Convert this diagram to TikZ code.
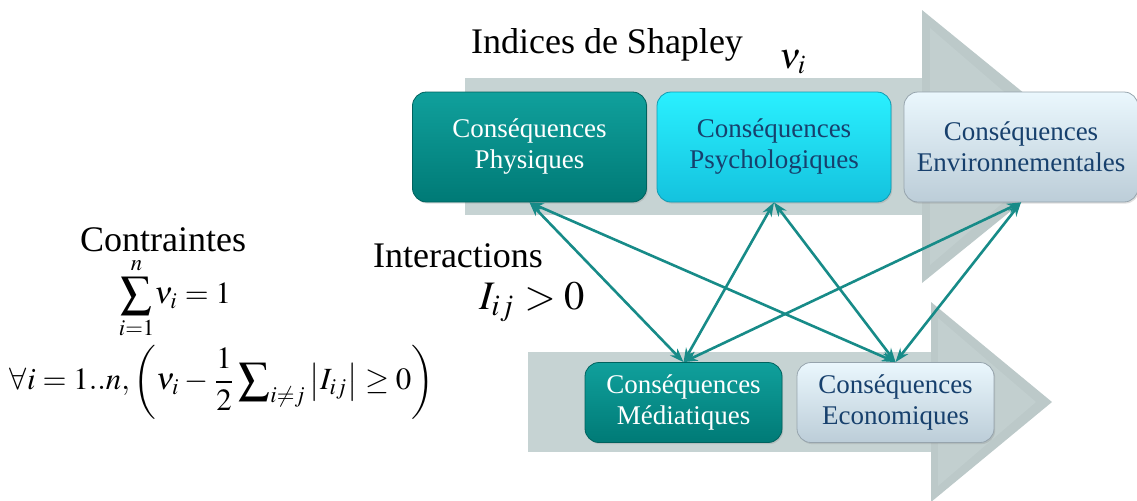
\documentclass[tikz,border=0pt]{standalone}
\usepackage{mathptmx}
\usepackage{fontspec}
\setmainfont{Liberation Serif}
\usepackage{amsmath}
\usepackage{graphicx}
\usetikzlibrary{arrows.meta,shadows}
\definecolor{tealtop}{HTML}{10A09C}
\definecolor{tealbot}{HTML}{007A76}
\definecolor{cyantop}{HTML}{2AF0FF}
\definecolor{cyanbot}{HTML}{14C2DE}
\definecolor{lighttop}{HTML}{EAF7FD}
\definecolor{lightbot}{HTML}{BCCDD8}
\definecolor{txtblue}{HTML}{17406D}
\definecolor{linkcol}{HTML}{178B88}
\definecolor{grayarrow}{HTML}{C6D3D3}
\definecolor{grayhead}{HTML}{BCC9C9}
\newcommand{\bigSig}{\mathop{\vcenter{\hbox{\scalebox{1.45}{$\sum$}}}}}
\tikzset{
  cbox/.style={rounded corners=7pt, align=center, inner sep=0pt,
    font=\fontsize{13.5}{15.5}\selectfont, drop shadow={opacity=0.25,shadow xshift=0.6pt,shadow yshift=-0.8pt}},
  bigbox/.style={cbox, minimum width=117pt, minimum height=55pt},
  smallbox/.style={cbox, minimum width=98.5pt, minimum height=40pt},
  tealbox/.style={top color=tealtop, bottom color=tealbot, draw=tealbot!80!black, text=white},
  cyanbox/.style={top color=cyantop, bottom color=cyanbot, draw=cyanbot!80!black, text=txtblue},
  lightbox/.style={top color=lighttop, bottom color=lightbot, draw=lightbot!80!black, text=txtblue},
  link/.style={draw=linkcol, line width=1.3pt, {Stealth[length=7pt,width=5pt]}-{Stealth[length=7pt,width=5pt]}},
  lbl/.style={font=\fontsize{18}{20}\selectfont, inner sep=0pt}
}
\begin{document}
\begin{tikzpicture}[x=0.5pt,y=-0.5pt]
\path[use as bounding box] (0,0) rectangle (1137,500);
% gray arrows
\fill[grayarrow] (465,78) -- (922,78) -- (922,215) -- (465,215) -- cycle;
\fill[grayhead] (922,10) -- (1090,147) -- (922,283) -- cycle;
\fill[grayarrow!60!grayhead] (930,28) -- (1068,147) -- (930,265) -- cycle;
\fill[grayarrow] (528,352) -- (931,352) -- (931,452) -- (528,452) -- cycle;
\fill[grayhead] (931,302) -- (1052,402) -- (931,502) -- cycle;
\fill[grayarrow!60!grayhead] (938,318) -- (1036,402) -- (938,486) -- cycle;
% boxes
\node[bigbox, tealbox] (phys) at (529.5,147) {Conséquences\\Physiques};
\node[bigbox, cyanbox] (psy) at (774,147) {Conséquences\\Psychologiques};
\node[bigbox, lightbox] (env) at (1021,147) {Conséquences\\Environnementales};
\node[smallbox, tealbox] (med) at (683.5,402.5) {Conséquences\\Médiatiques};
\node[smallbox, lightbox] (eco) at (895.5,402.5) {Conséquences\\Economiques};
% links
\draw[link] (phys.south) -- (med.north);
\draw[link] (phys.south) -- (eco.north);
\draw[link] (psy.south) -- (med.north);
\draw[link] (psy.south) -- (eco.north);
\draw[link] (env.south) -- (med.north);
\draw[link] (env.south) -- (eco.north);
% texts
\node[lbl] (shap) at (607,45) {Indices de Shapley};
\node[inner sep=0pt] (nu) at (793,62) {\resizebox{14pt}{!}{$\nu_i$}};
\node[lbl] (contr) at (163,240) {Contraintes};
\node[lbl] (inter) at (458,256) {Interactions};
\node[inner sep=0pt] (iij) at (532,302) {\resizebox{53pt}{!}{$I_{ij} > 0$}};
\node[inner sep=0pt] (sum) at (175,298) {\resizebox{56pt}{!}{$\displaystyle\bigSig_{i=1}^{n}\!\nu_i = 1$}};
\node[inner sep=0pt] (cons) at (222,382) {\resizebox{212pt}{!}{$\forall i = 1..n, \left( \nu_i - \dfrac{1}{2}\displaystyle\sum\nolimits_{i\neq j}\left|I_{ij}\right| \geq 0 \right)$}};
\end{tikzpicture}
\end{document}
